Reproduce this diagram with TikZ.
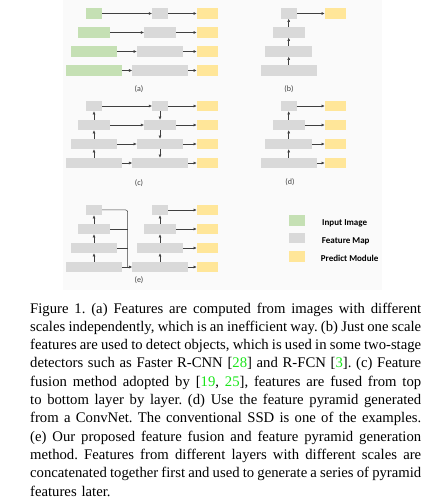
\documentclass[tikz,border=0pt]{standalone}
\usepackage{fontspec}
\setmainfont{Liberation Serif}
\newfontfamily\labfont{Carlito}
\usetikzlibrary{arrows.meta}
\definecolor{ingreen}{HTML}{C5E0B4}
\definecolor{fmgray}{HTML}{D9D9D9}
\definecolor{pmyellow}{HTML}{FFE699}
\definecolor{citegreen}{rgb}{0.1,0.9,0.1}
\definecolor{linec}{HTML}{404040}
\newcommand\capline[1]{\leavevmode{\spaceskip=0pt\xspaceskip=0pt\hbox to 391pt{#1}}}
\begin{document}
\begin{tikzpicture}[x=1pt,y=-1pt,
 box/.style={rectangle, inner sep=0, minimum height=10.5, draw=none},
 inp/.style={box, fill=ingreen},
 fm/.style={box, fill=fmgray},
 pm/.style={box, fill=pmyellow, minimum width=21},
 arr/.style={draw=linec, line width=0.5pt, -{Triangle[length=3pt,width=2.6pt]}},
 ln/.style={draw=linec, line width=0.5pt},
 sublab/.style={font=\labfont\fontsize{8}{9.6}\selectfont, text=black!75, inner sep=0},
 legtxt/.style={font=\labfont\bfseries\fontsize{9}{10.8}\selectfont, anchor=base west, inner sep=0},
]
\useasboundingbox (0,0) rectangle (442,502);
\fill[black!2] (63,0) rectangle (382,290);

% (a)
\foreach \i/\w in {1/16,2/32,3/46.5,4/55.7}{
  \pgfmathsetmacro\yy{13.5+19*(\i-1)}
  \node[inp, minimum width=\w] (ag\i) at (94,\yy) {};
  \node[fm, minimum width=\w] (am\i) at (160,\yy) {};
  \node[pm] (ap\i) at (207.2,\yy) {};
  \draw[arr] (ag\i) -- (am\i);
  \draw[arr] (am\i) -- (ap\i);
}
\node[sublab] (la) at (139,89) {(a)};

% (b)
\foreach \i/\w in {1/16,2/32,3/46.5,4/55.7}{
  \pgfmathsetmacro\yy{13.5+19*(\i-1)}
  \node[fm, minimum width=\w] (b\i) at (288.7,\yy) {};
}
\node[pm] (bp) at (335.2,13.5) {};
\draw[arr] (b1) -- (bp);
\foreach \i/\j in {2/1,3/2,4/3} \draw[arr] (b\i) -- (b\j);
\node[sublab] (lb) at (289,89) {(b)};

% (c)
\foreach \i/\w in {1/16,2/32,3/46.5,4/55.7}{
  \pgfmathsetmacro\yy{106+19*(\i-1)}
  \node[fm, minimum width=\w] (cl\i) at (94,\yy) {};
  \node[fm, minimum width=\w] (cm\i) at (160,\yy) {};
  \node[pm] (cp\i) at (207.2,\yy) {};
  \draw[arr] (cl\i) -- (cm\i);
  \draw[arr] (cm\i) -- (cp\i);
}
\foreach \i/\j in {2/1,3/2,4/3}{
  \draw[arr] (cl\i) -- (cl\j);
  \draw[arr] (cm\j) -- (cm\i);
}
\node[sublab] (lc) at (139,183) {(c)};

% (d)
\foreach \i/\w in {1/16,2/32,3/46.5,4/55.7}{
  \pgfmathsetmacro\yy{106+19*(\i-1)}
  \node[fm, minimum width=\w] (d\i) at (288.7,\yy) {};
  \node[pm] (dp\i) at (335.2,\yy) {};
  \draw[arr] (d\i) -- (dp\i);
}
\foreach \i/\j in {2/1,3/2,4/3} \draw[arr] (d\i) -- (d\j);
\node[sublab] (ld) at (290,182) {(d)};

% (e)
\foreach \i/\w in {1/16,2/32,3/46.5,4/55.7}{
  \pgfmathsetmacro\yy{210+19*(\i-1)}
  \node[fm, minimum width=\w] (el\i) at (94,\yy) {};
  \node[fm, minimum width=\w] (em\i) at (160,\yy) {};
  \node[pm] (ep\i) at (207.2,\yy) {};
  \draw[arr] (em\i) -- (ep\i);
}
\foreach \i/\j in {2/1,3/2,4/3}{
  \draw[arr] (el\i) -- (el\j);
  \draw[arr] (em\i) -- (em\j);
}
\coordinate (ebus) at (127.7,267);
\draw[ln, rounded corners=2pt] (el1.east) -| (ebus);
\draw[ln] (el2.east) -- (el2.east -| ebus);
\draw[ln] (el3.east) -- (el3.east -| ebus);
\draw[arr] (el4) -- (em4);
\node[sublab] (le) at (139,280) {(e)};

% legend
\node[inp, minimum width=16, minimum height=10.4] (lg1) at (296.7,220.5) {};
\node[fm, minimum width=16, minimum height=10.4] (lg2) at (296.7,238.2) {};
\node[pm, minimum width=16, minimum height=10.4] (lg3) at (296.7,256.3) {};
\node[legtxt] (lt1) at (322,225.5) {Input Image};
\node[legtxt] (lt2) at (321.7,243) {Feature Map};
\node[legtxt] (lt3) at (320.7,261) {Predict Module};

% caption
\node[anchor=north west, inner sep=0, text width=391pt, align=left,
      font=\fontsize{14.7}{18.3}\selectfont\frenchspacing] (cap) at (30,302.5) {%
\capline{Figure 1. (a) Features are computed from images with different}\\
\capline{scales independently, which is an inefficient way. (b) Just one scale}\\
\capline{features are used to detect objects, which is used in some two-stage}\\
\capline{detectors such as Faster R-CNN [\textcolor{citegreen}{28}] and R-FCN [\textcolor{citegreen}{3}]. (c) Feature}\\
\capline{fusion method adopted by [\textcolor{citegreen}{19}, \textcolor{citegreen}{25}], features are fused from top}\\
\capline{to bottom layer by layer. (d) Use the feature pyramid generated}\\
\capline{from a ConvNet. The conventional SSD is one of the examples.}\\
\capline{(e) Our proposed feature fusion and feature pyramid generation}\\
\capline{method. Features from different layers with different scales are}\\
\capline{concatenated together first and used to generate a series of pyramid}\\
features later.};
\end{tikzpicture}
\end{document}
